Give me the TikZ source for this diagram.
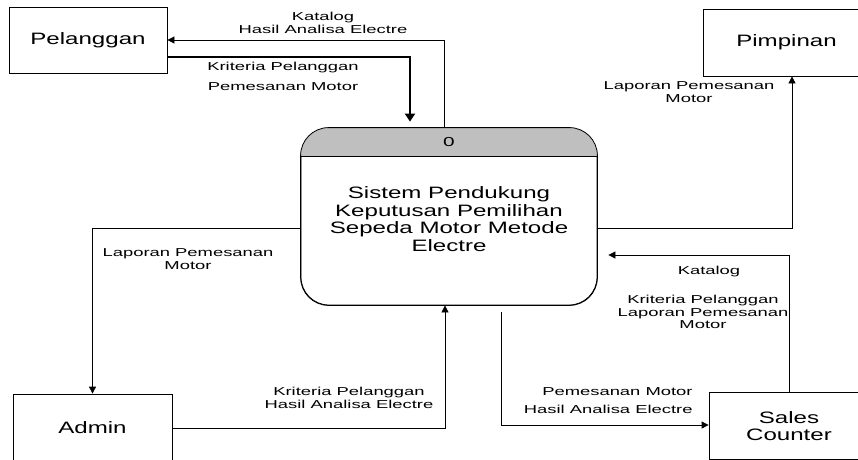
\documentclass[tikz,border=0pt]{standalone}
\usepackage{fontspec}
\setmainfont{Liberation Sans}
\newfontfamily\lblfont[FakeStretch=1.6]{Liberation Sans}
\newfontfamily\boxfont[FakeStretch=1.46]{Liberation Sans}
\usetikzlibrary{arrows.meta}

\begin{document}
\begin{tikzpicture}[x=1pt,y=-1pt,line width=0.8pt]
\tikzstyle{every node}=[]
\tikzstyle{entity}=[draw, rectangle, inner sep=0pt, font=\boxfont\fontsize{16.5}{17}\selectfont, align=center]
\tikzstyle{flowlabel}=[inner sep=0pt, font=\lblfont\fontsize{11.5}{12.5}\selectfont, align=center]
\tikzstyle{flow}=[-{Triangle[length=7pt,width=7pt]}]
\tikzstyle{bigflow}=[line width=2.2pt, -{Triangle[length=8pt,width=10pt]}]

\useasboundingbox (0,0) rectangle (858,459);

\node[entity, minimum width=158pt, minimum height=66pt]   (pel) at ( 88,   40   ) {Pelanggan};
\node[entity, minimum width=167pt, minimum height=67pt]   (pim) at (786.5, 42.5 ) {Pimpinan};
\node[entity, minimum width=159pt, minimum height=68pt]   (adm) at ( 92.5,428   ) {Admin};
\node[entity, minimum width=160pt, minimum height=67.5pt] (sal) at (789,  425.75) {Sales\\Counter};

\node[draw, rounded corners=28pt, minimum width=296pt, minimum height=177pt] (proc) at (449,216.5) {};
\begin{scope}
\clip[rounded corners=28pt] (proc.north west) rectangle (proc.south east);
\fill[black!25] (proc.north west) rectangle ([yshift=-29pt]proc.north east);
\end{scope}
\draw[rounded corners=28pt] (proc.north west) rectangle (proc.south east);
\draw ([yshift=-29pt]proc.north west) -- ([yshift=-29pt]proc.north east);
\node[flowlabel, font=\lblfont\fontsize{13}{14}\selectfont] (nomor) at (449,142) {0};
\node[font=\boxfont\fontsize{16.5}{17.5}\selectfont, align=center] (judul) at (449,219)
  {Sistem Pendukung\\Keputusan Pemilihan\\Sepeda Motor Metode\\Electre};

\draw[flow]    ([xshift=-5pt]proc.north) |- (pel.east);
\draw[bigflow] ([yshift=-17pt]pel.east) -| ([xshift=-39pt,yshift=6pt]proc.north);
\draw[flow]    ([yshift=-11.5pt]proc.east) -| ([xshift=5.5pt]pim.south);
\draw[flow]    ([yshift=-11.5pt]proc.west) -| (adm.north);
\draw[flow]    (adm.east) -| ([xshift=-4pt]proc.south);
\draw[flow]    ([xshift=52pt,yshift=-7pt]proc.south) |- ([yshift=0.75pt]sal.west);
\draw[flow]    (sal.north) |- ([xshift=11pt,yshift=-38.5pt]proc.east);

\node[flowlabel] (l1) at (323, 23) {Katalog\\Hasil Analisa Electre};
\node[flowlabel] (l2) at (283, 76) {Kriteria Pelanggan\\[7.5pt]Pemesanan Motor};
\node[flowlabel] (l3) at (689, 92) {Laporan Pemesanan\\Motor};
\node[flowlabel] (l4) at (188,259) {Laporan Pemesanan\\Motor};
\node[flowlabel] (l5) at (349,398) {Kriteria Pelanggan\\Hasil Analisa Electre};
\node[flowlabel, align=right, anchor=east] (l6) at (693,401) {Pemesanan Motor\\[5.5pt]Hasil Analisa Electre};
\node[flowlabel] (l7) at (709,272) {Katalog};
\node[flowlabel] (l8) at (703,312) {Kriteria Pelanggan\\Laporan Pemesanan\\Motor};
\end{tikzpicture}
\end{document}
